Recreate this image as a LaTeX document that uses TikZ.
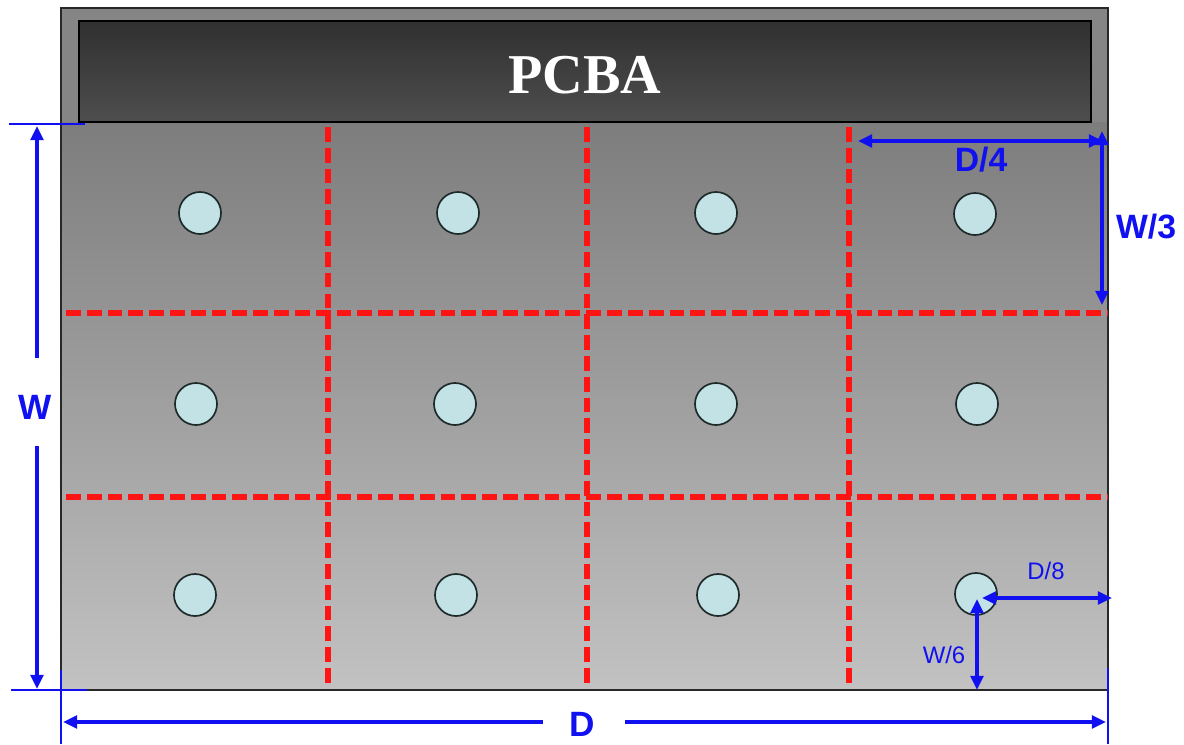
\documentclass[tikz,border=0pt]{standalone}
\usepackage{fontspec}
\newfontfamily\arialf{Liberation Sans}
\newfontfamily\timesf{Liberation Serif}
\usetikzlibrary{arrows.meta}
\definecolor{dimblue}{HTML}{1010F0}
\definecolor{holefill}{HTML}{C2E2E6}
\definecolor{holeline}{HTML}{1E2A2A}
\definecolor{cutred}{HTML}{FF1414}
\definecolor{boardtop}{HTML}{858585}
\definecolor{boardmid}{HTML}{7D7D7D}
\definecolor{boardbot}{HTML}{C2C2C2}
\definecolor{bartop}{HTML}{303030}
\definecolor{barbot}{HTML}{4E4E4E}
\definecolor{edge}{HTML}{282828}
\tikzset{
  px/.style={x=0.025cm,y=-0.025cm},
  dimline/.style={draw=dimblue,line width=2.2pt},
  dimarrow/.style={dimline,{Triangle[length=10pt,width=9pt]}-{Triangle[length=10pt,width=9pt]}},
  onearrow/.style={dimline,-{Triangle[length=10pt,width=9pt]}},
  bigdim/.style={text=dimblue,font=\arialf\bfseries\fontsize{25}{27}\selectfont,inner sep=0pt},
  middim/.style={text=dimblue,font=\arialf\bfseries\fontsize{24}{26}\selectfont,inner sep=0pt},
  smalldim/.style={text=dimblue,font=\arialf\fontsize{17}{19}\selectfont,inner sep=0pt},
  hole/.style={circle,draw=holeline,line width=1.2pt,fill=holefill,minimum size=1.05cm,inner sep=0pt},
  cutline/.style={draw=cutred,line width=3.8pt,dash pattern=on 10.5pt off 4.3pt},
}
\begin{document}
\begin{tikzpicture}[px]
\useasboundingbox (0,0) rectangle (1184,744);
% board
\fill[boardtop] (61,8) rectangle (1108,122);
\shade[top color=boardmid,bottom color=boardbot] (61,122) rectangle (1108,690);
\draw[line width=1.2pt,draw=edge] (61,8) rectangle (1108,690);
% PCBA bar
\shade[top color=bartop,bottom color=barbot] (79,21) rectangle (1091,122);
\draw[line width=1.2pt,draw=black] (79,21) rectangle (1091,122);
\node[text=white,font=\timesf\bfseries\fontsize{40}{44}\selectfont,inner sep=0pt] (pcba) at (585,75) {PCBA};
% red cut lines
\draw[cutline] (328,127) -- (328,686);
\draw[cutline] (587,127) -- (587,686);
\draw[cutline] (849,127) -- (849,686);
\draw[cutline] (66,313) -- (1108,313);
\draw[cutline] (66,497) -- (1108,497);
% holes
\node[hole] (h11) at (200,213) {};
\node[hole] (h12) at (458,213) {};
\node[hole] (h13) at (716,213) {};
\node[hole] (h14) at (975,214) {};
\node[hole] (h21) at (196,404) {};
\node[hole] (h22) at (455,404) {};
\node[hole] (h23) at (716,404) {};
\node[hole] (h24) at (977,404) {};
\node[hole] (h31) at (195,595) {};
\node[hole] (h32) at (456,595) {};
\node[hole] (h33) at (718,595) {};
\node[hole] (h34) at (976,594) {};
% W dimension
\coordinate (wtop) at (37,126);
\coordinate (wbot) at (37,689);
\coordinate (wgt) at (37,358);
\coordinate (wgb) at (37,446);
\node[bigdim] (wlab) at (35,407) {W};
\draw[onearrow] (wgt) -- (wtop);
\draw[onearrow] (wgb) -- (wbot);
\draw[dimline,line width=2pt] (9,124) -- (85,124);
\draw[dimline,line width=2pt] (11,690) -- (87,690);
% D dimension
\coordinate (dleft) at (63,722);
\coordinate (dright) at (1106,722);
\coordinate (dgl) at (543,722);
\coordinate (dgr) at (625,722);
\node[bigdim] (dlab) at (582,724) {D};
\draw[onearrow] (dgl) -- (dleft);
\draw[onearrow] (dgr) -- (dright);
\draw[dimline,line width=2pt] (61,670) -- (61,744);
\draw[dimline,line width=2pt] (1108,668) -- (1108,744);
% D/4 and W/3
\coordinate (d4l) at (858,141);
\coordinate (d4r) at (1103,141);
\draw[dimarrow] (d4l) -- (d4r);
\node[middim] (d4lab) at (981,160) {D/4};
\coordinate (w3t) at (1102,131);
\coordinate (w3b) at (1102,305);
\draw[dimarrow] (w3t) -- (w3b);
\node[middim] (w3lab) at (1146,227) {W/3};
% D/8 and W/6
\coordinate (d8l) at (982,598);
\coordinate (d8r) at (1112,598);
\draw[dimarrow] (d8l) -- (d8r);
\node[smalldim] (d8lab) at (1046,571) {D/8};
\coordinate (w6b) at (977,690);
\coordinate (w6t) at (977,599);
\draw[dimarrow] (w6t) -- (w6b);
\node[smalldim] (w6lab) at (944,655) {W/6};
\end{tikzpicture}
\end{document}
